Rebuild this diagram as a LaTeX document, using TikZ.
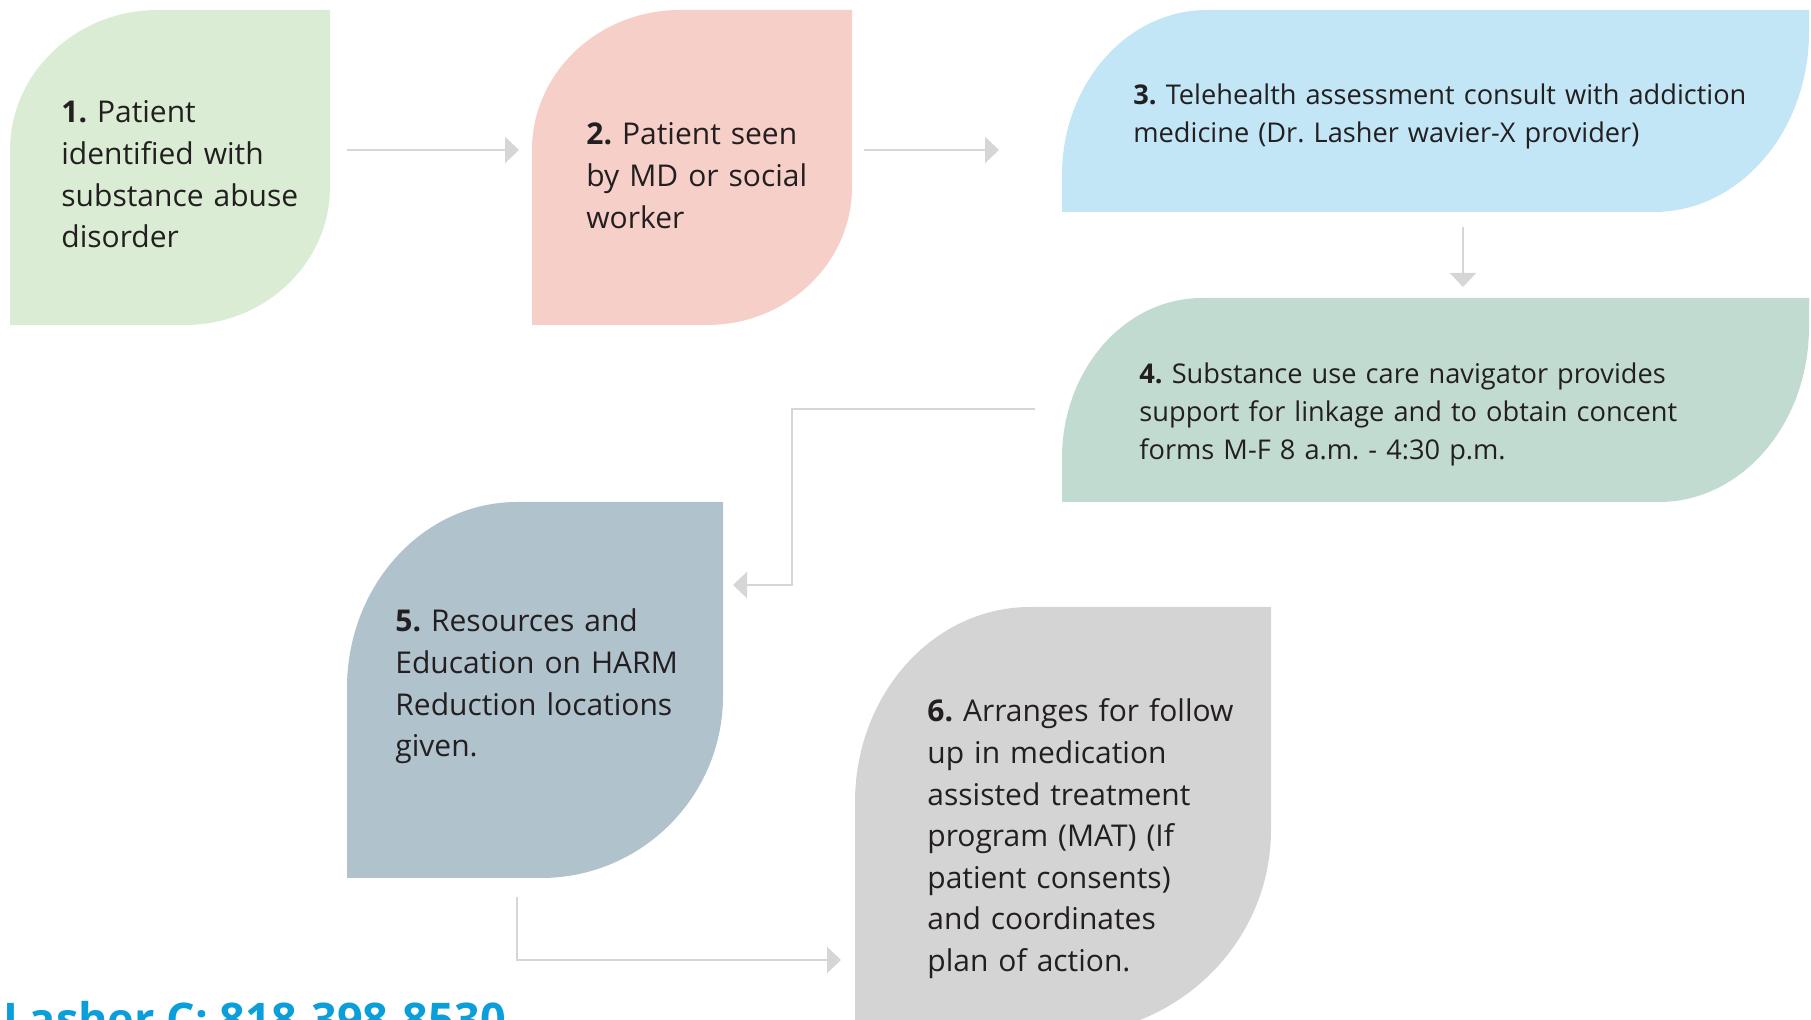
\documentclass[tikz,border=0pt]{standalone}
\usepackage{fontspec}
\setmainfont{Open Sans}
\usetikzlibrary{arrows.meta}
\frenchspacing
\definecolor{cgreen}{HTML}{DAEDD4}
\definecolor{cpink}{HTML}{F6CFC8}
\definecolor{cblue}{HTML}{C2E6F5}
\definecolor{csage}{HTML}{C2DBD0}
\definecolor{cslate}{HTML}{B0C2CB}
\definecolor{cgray}{HTML}{D4D4D4}
\definecolor{arrowgray}{HTML}{D6D6D6}
\definecolor{txt}{HTML}{231F20}
\definecolor{phoneblue}{HTML}{0A9FDA}
% x0 y0 x1 y1 rx(top-left) ry(top-left) rx(bottom-right) ry(bottom-right) colour
\newcommand\leafshape[9]{\fill[#9] (#1,{#2+#6}) .. controls (#1,{#2+0.448*#6}) and ({#1+0.448*#5},#2) .. ({#1+#5},#2) -- (#3,#2) -- (#3,{#4-#8}) .. controls (#3,{#4-0.448*#8}) and ({#3-0.448*#7},#4) .. ({#3-#7},#4) -- (#1,#4) -- cycle;}
\tikzset{
  bigtext/.style={anchor=base west, inner sep=0pt, text width=300pt, align=left, text=txt, font=\fontsize{15}{20.8}\selectfont},
  smalltext/.style={anchor=base west, inner sep=0pt, text width=360pt, align=left, text=txt, font=\fontsize{13.6}{19}\selectfont},
  flow/.style={draw=arrowgray, line width=1.4pt, -{Triangle[width=13pt,length=7pt]}},
}
\begin{document}
\begin{tikzpicture}[x=0.5pt,y=-0.5pt]
\useasboundingbox (0,0) rectangle (1811,1020);
\clip (0,0) rectangle (1811,1020);
% shapes
\leafshape{10}{10}{330}{325}{148}{140}{145}{138}{cgreen}
\leafshape{532}{10}{852}{325}{148}{140}{145}{138}{cpink}
\leafshape{1062}{10}{1809}{212}{145}{165}{155}{180}{cblue}
\leafshape{1062}{298}{1809}{502}{140}{160}{150}{175}{csage}
\leafshape{347}{502}{723}{878}{170}{186}{182}{182}{cslate}
\leafshape{855}{607}{1271}{1035}{175}{195}{210}{205}{cgray}
% texts
\node[bigtext] (t1) at (61,123) {\textbf{1.} Patient\\identified with\\substance abuse\\disorder};
\node[bigtext] (t2) at (586,145) {\textbf{2.} Patient seen\\by MD or social\\worker};
\node[smalltext] (t3) at (1133,105) {\textbf{3.} Telehealth assessment consult with addiction\\medicine (Dr. Lasher wavier-X provider)};
\node[smalltext] (t4) at (1139,384) {\textbf{4.} Substance use care navigator provides\\support for linkage and to obtain concent\\forms M-F 8 a.m. - 4:30 p.m.};
\node[bigtext] (t5) at (395,632) {\textbf{5.} Resources and\\Education on HARM\\Reduction locations\\given.};
\node[bigtext] (t6) at (927,722) {\textbf{6.} Arranges for follow\\up in medication\\assisted treatment\\program (MAT) (If\\patient consents)\\and coordinates\\plan of action.};
\node[anchor=base west, inner sep=0pt, text=phoneblue, font=\fontsize{22.5}{27}\selectfont\bfseries] (phone) at (3,1036) {Lasher C: 818-398-8530};
% connectors
\coordinate (a1s) at (347,150);
\coordinate (a1e) at (519,150);
\coordinate (a2s) at (864,150);
\coordinate (a2e) at (999,150);
\coordinate (a3s) at (1463,227);
\coordinate (a3e) at (1463,287);
\coordinate (a4s) at (1035,409);
\coordinate (a4m) at (792,409);
\coordinate (a4n) at (792,585);
\coordinate (a4e) at (733,585);
\coordinate (a5s) at (517,897);
\coordinate (a5m) at (517,960);
\coordinate (a5e) at (841,960);
\draw[flow] (a1s) -- (a1e);
\draw[flow] (a2s) -- (a2e);
\draw[flow] (a3s) -- (a3e);
\draw[flow] (a4s) -- (a4m) -- (a4n) -- (a4e);
\draw[flow] (a5s) -- (a5m) -- (a5e);
\end{tikzpicture}
\end{document}
